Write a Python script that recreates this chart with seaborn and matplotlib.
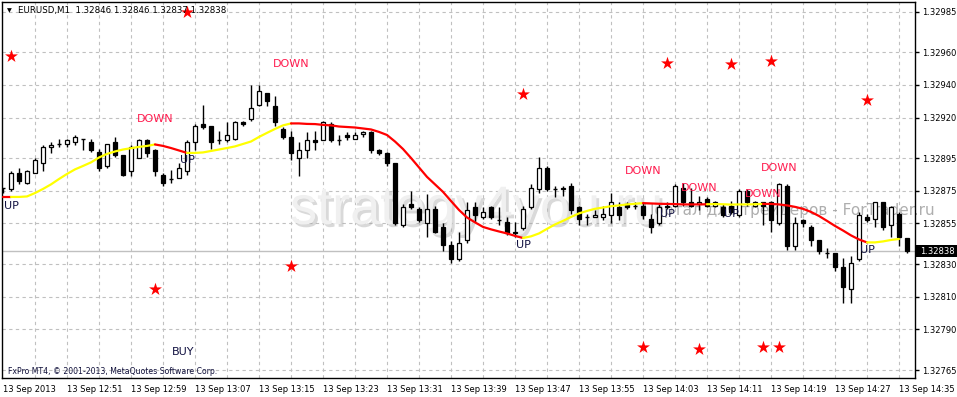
import numpy as np
import pandas as pd
import matplotlib
matplotlib.use("Agg")
import matplotlib.pyplot as plt
import matplotlib.patheffects as pe
from matplotlib.patches import Rectangle
import seaborn as sns

# ---------------- data ----------------
opens = [1.32877, 1.32876, 1.32886, 1.32880, 1.32886, 1.32892, 1.32902, 1.32904, 1.32904, 1.32905,
         1.32907, 1.32905, 1.32899, 1.32890, 1.32905, 1.32897, 1.32887, 1.32895, 1.32906, 1.32900,
         1.32885, 1.32882, 1.32883, 1.32887, 1.32905, 1.32916, 1.32915, 1.32906, 1.32906, 1.32907,
         1.32917, 1.32919, 1.32928, 1.32935, 1.32927, 1.32913, 1.32908, 1.32895, 1.32900, 1.32906,
         1.32906, 1.32916, 1.32906, 1.32909, 1.32907, 1.32910, 1.32911, 1.32900, 1.32898, 1.32892,
         1.32854, 1.32867, 1.32864, 1.32855, 1.32864, 1.32853, 1.32842, 1.32833, 1.32845, 1.32865,
         1.32859, 1.32865, 1.32857, 1.32856, 1.32850, 1.32852, 1.32865, 1.32876, 1.32889, 1.32876,
         1.32876, 1.32878, 1.32865, 1.32859, 1.32859, 1.32859, 1.32860, 1.32865, 1.32867, 1.32866,
         1.32866, 1.32858, 1.32855, 1.32865, 1.32866, 1.32877, 1.32868, 1.32867, 1.32870, 1.32866,
         1.32865, 1.32866, 1.32860, 1.32875, 1.32866, 1.32868, 1.32868, 1.32855, 1.32878, 1.32841,
         1.32857, 1.32853, 1.32845, 1.32837, 1.32837, 1.32828, 1.32815, 1.32833, 1.32859, 1.32858,
         1.32868, 1.32854, 1.32861, 1.32846]
highs = [1.32877, 1.32887, 1.32889, 1.32888, 1.32895, 1.32903, 1.32905, 1.32907, 1.32907, 1.32909,
         1.32907, 1.32907, 1.32901, 1.32904, 1.32908, 1.32897, 1.32903, 1.32907, 1.32907, 1.32901,
         1.32886, 1.32888, 1.32892, 1.32906, 1.32916, 1.32928, 1.32915, 1.32912, 1.32917, 1.32918,
         1.32918, 1.32940, 1.32940, 1.32935, 1.32933, 1.32914, 1.32912, 1.32905, 1.32911, 1.32912,
         1.32918, 1.32917, 1.32909, 1.32911, 1.32911, 1.32912, 1.32912, 1.32901, 1.32899, 1.32892,
         1.32867, 1.32875, 1.32865, 1.32873, 1.32866, 1.32855, 1.32844, 1.32850, 1.32868, 1.32868,
         1.32865, 1.32866, 1.32865, 1.32859, 1.32856, 1.32866, 1.32879, 1.32896, 1.32890, 1.32878,
         1.32878, 1.32880, 1.32866, 1.32861, 1.32863, 1.32866, 1.32874, 1.32868, 1.32868, 1.32868,
         1.32868, 1.32861, 1.32867, 1.32868, 1.32879, 1.32880, 1.32877, 1.32872, 1.32871, 1.32869,
         1.32867, 1.32869, 1.32876, 1.32876, 1.32869, 1.32868, 1.32869, 1.32880, 1.32879, 1.32859,
         1.32858, 1.32854, 1.32845, 1.32840, 1.32837, 1.32834, 1.32835, 1.32862, 1.32861, 1.32868,
         1.32868, 1.32866, 1.32862, 1.32846]
lows = [1.32874, 1.32875, 1.32879, 1.32879, 1.32886, 1.32887, 1.32898, 1.32902, 1.32902, 1.32903,
        1.32900, 1.32899, 1.32887, 1.32889, 1.32896, 1.32884, 1.32884, 1.32895, 1.32896, 1.32884,
        1.32878, 1.32880, 1.32883, 1.32885, 1.32900, 1.32913, 1.32901, 1.32904, 1.32905, 1.32906,
        1.32915, 1.32918, 1.32927, 1.32927, 1.32915, 1.32907, 1.32894, 1.32884, 1.32895, 1.32900,
        1.32906, 1.32905, 1.32903, 1.32906, 1.32907, 1.32908, 1.32898, 1.32897, 1.32890, 1.32854,
        1.32853, 1.32864, 1.32856, 1.32847, 1.32849, 1.32838, 1.32831, 1.32832, 1.32843, 1.32856,
        1.32858, 1.32858, 1.32854, 1.32848, 1.32847, 1.32851, 1.32864, 1.32874, 1.32875, 1.32871,
        1.32872, 1.32861, 1.32854, 1.32854, 1.32859, 1.32857, 1.32855, 1.32857, 1.32864, 1.32864,
        1.32858, 1.32849, 1.32854, 1.32864, 1.32865, 1.32866, 1.32865, 1.32863, 1.32865, 1.32865,
        1.32859, 1.32861, 1.32859, 1.32866, 1.32865, 1.32854, 1.32850, 1.32854, 1.32839, 1.32839,
        1.32853, 1.32841, 1.32836, 1.32834, 1.32826, 1.32806, 1.32806, 1.32832, 1.32856, 1.32853,
        1.32851, 1.32847, 1.32841, 1.32837]
closes = [1.32877, 1.32886, 1.32881, 1.32887, 1.32894, 1.32902, 1.32903, 1.32904, 1.32906, 1.32908,
          1.32907, 1.32900, 1.32889, 1.32904, 1.32897, 1.32885, 1.32902, 1.32906, 1.32898, 1.32887,
          1.32880, 1.32882, 1.32889, 1.32905, 1.32915, 1.32914, 1.32905, 1.32906, 1.32909, 1.32917,
          1.32916, 1.32926, 1.32936, 1.32930, 1.32917, 1.32908, 1.32898, 1.32900, 1.32906, 1.32905,
          1.32917, 1.32906, 1.32906, 1.32908, 1.32909, 1.32911, 1.32900, 1.32898, 1.32892, 1.32855,
          1.32865, 1.32865, 1.32857, 1.32864, 1.32850, 1.32842, 1.32833, 1.32843, 1.32863, 1.32860,
          1.32862, 1.32859, 1.32857, 1.32849, 1.32849, 1.32864, 1.32877, 1.32889, 1.32876, 1.32876,
          1.32877, 1.32863, 1.32858, 1.32859, 1.32860, 1.32861, 1.32868, 1.32860, 1.32865, 1.32866,
          1.32860, 1.32853, 1.32865, 1.32866, 1.32878, 1.32868, 1.32866, 1.32868, 1.32866, 1.32868,
          1.32860, 1.32862, 1.32875, 1.32868, 1.32868, 1.32866, 1.32857, 1.32879, 1.32841, 1.32855,
          1.32855, 1.32845, 1.32838, 1.32837, 1.32828, 1.32816, 1.32831, 1.32860, 1.32857, 1.32868,
          1.32853, 1.32865, 1.32847, 1.32838]

ma_values = [1.328713, 1.328713, 1.328713, 1.328716, 1.328737, 1.328762, 1.328790, 1.328823, 1.328854, 1.328882,
             1.328903, 1.328925, 1.328955, 1.328977, 1.328992, 1.329004, 1.329012, 1.329020, 1.329026, 1.329035,
             1.329026, 1.329013, 1.328998, 1.328983, 1.328983, 1.328986, 1.328995, 1.329004, 1.329013, 1.329023,
             1.329038, 1.329053, 1.329081, 1.329106, 1.329130, 1.329152, 1.329164, 1.329164, 1.329161, 1.329160,
             1.329155, 1.329152, 1.329145, 1.329142, 1.329139, 1.329133, 1.329127, 1.329112, 1.329093, 1.329053,
             1.329007, 1.328952, 1.328894, 1.328836, 1.328790, 1.328744, 1.328688, 1.328633, 1.328587, 1.328557,
             1.328529, 1.328514, 1.328501, 1.328489, 1.328474, 1.328461, 1.328471, 1.328489, 1.328517, 1.328544,
             1.328566, 1.328590, 1.328612, 1.328627, 1.328640, 1.328648, 1.328656, 1.328661, 1.328667, 1.328671,
             1.328675, 1.328673, 1.328671, 1.328670, 1.328669, 1.328667, 1.328667, 1.328667, 1.328668, 1.328669,
             1.328668, 1.328666, 1.328667, 1.328667, 1.328668, 1.328670, 1.328670, 1.328667, 1.328661, 1.328652,
             1.328640, 1.328621, 1.328596, 1.328566, 1.328535, 1.328507, 1.328477, 1.328452, 1.328434, 1.328434,
             1.328440, 1.328449, 1.328455]
trend_breaks = [0, 1, 19, 23, 36, 65, 80, 88, 95, 108, 112]
trend_dirs = ["down", "up", "down", "up", "down", "up", "down", "up", "down", "up"]

signal_text = ["UP", "DOWN", "UP", "DOWN", "UP", "DOWN", "UP", "DOWN", "UP", "DOWN", "DOWN", "UP", "BUY"]
signal_bar = [1, 19, 23, 36, 65, 80, 83, 87, 91, 95, 97, 108, 22.5]
signal_price = [1.32866, 1.32919, 1.32894, 1.32953, 1.32842, 1.32887, 1.32861, 1.32877,
                1.32861, 1.32873, 1.32889, 1.32839, 1.32776]

star_bar = [1, 23, 19, 36, 65, 83, 91, 96, 108, 80, 87, 95, 97]
star_price = [1.32958, 1.32985, 1.32815, 1.32829, 1.329345, 1.329535, 1.32953, 1.32955,
              1.32931, 1.32779, 1.32778, 1.32779, 1.32779]

x_tick_bars = [0, 8, 16, 24, 32, 40, 48, 56, 64, 72, 80, 88, 96, 104, 112]
x_tick_labels = ["13 Sep 2013", "13 Sep 12:51", "13 Sep 12:59", "13 Sep 13:07", "13 Sep 13:15",
                 "13 Sep 13:23", "13 Sep 13:31", "13 Sep 13:39", "13 Sep 13:47", "13 Sep 13:55",
                 "13 Sep 14:03", "13 Sep 14:11", "13 Sep 14:19", "13 Sep 14:27", "13 Sep 14:35"]
y_ticks = [1.32765, 1.32790, 1.32810, 1.32830, 1.32855, 1.32875, 1.32895, 1.32920, 1.32940, 1.32960, 1.32985]
last_price = 1.32838
title = "EURUSD,M1  1.32846 1.32846 1.32837 1.32838"

# ---------------- figure ----------------
sns.set_style("white")
plt.rcParams['font.family'] = ['DejaVu Sans']

W, H = 957, 397
fig = plt.figure(figsize=(W / 100, H / 100), dpi=100)
ax = fig.add_axes([2 / W, 19 / H, 913 / W, 376 / H])
ax.set_xlim(-0.125, 114)
ax.set_ylim(1.327602, 1.329909)

df = pd.DataFrame(dict(bar=np.arange(len(opens)), open=opens, high=highs, low=lows, close=closes))

# grid
grid_kw = dict(color='#c0c0c0', lw=0.8, ls=(0, (3, 3)), zorder=0)
for v in range(4, 114, 4):
    ax.axvline(v, **grid_kw)
for v in y_ticks:
    ax.axhline(v, **grid_kw)

# watermarks (behind candles)
ax.text(290 / W, 1 - 224 / H, "strategy4you.ru", transform=fig.transFigure, fontsize=39,
        family='Liberation Sans', color='#f0f0f0', ha='left', va='baseline', zorder=0.5,
        path_effects=[pe.withSimplePatchShadow(offset=(2, -2), shadow_rgbFace='#a0a0a0', alpha=0.4)],
        clip_on=False)
ax.text(643 / W, 1 - 215 / H, "Портал для трейдеров - ForTrader.ru", transform=fig.transFigure,
        fontsize=11, color='#a0a0a0', alpha=0.85, ha='left', va='baseline', zorder=0.6, clip_on=False)

# current price line
ax.axhline(last_price, color='#c0c0c0', lw=1, zorder=1)

# candles
body_w = 0.6
up = df.close > df.open
dn = df.close < df.open
flat = df.close == df.open
ax.vlines(df.bar, df.low, df.high, color='black', lw=1, zorder=2)
ax.bar(df.bar[up], (df.close - df.open)[up], bottom=df.open[up], width=body_w,
       color='white', edgecolor='black', lw=0.9, zorder=3)
ax.bar(df.bar[dn], (df.open - df.close)[dn], bottom=df.close[dn], width=body_w,
       color='black', edgecolor='black', lw=0.9, zorder=3)
ax.hlines(df.open[flat], df.bar[flat] - body_w / 2, df.bar[flat] + body_w / 2,
          color='black', lw=1, zorder=3)

# moving average, coloured by trend
ma_df = pd.DataFrame(dict(bar=np.arange(len(ma_values)), ma=ma_values))
trend_color = {"up": "#ffff00", "down": "#ff0000"}
for k, d in enumerate(trend_dirs):
    seg = ma_df.iloc[trend_breaks[k]:trend_breaks[k + 1] + 1]
    sns.lineplot(data=seg, x="bar", y="ma", color=trend_color[d], lw=1.6, ax=ax,
                 legend=False, zorder=4)

# stars
sns.scatterplot(x=star_bar, y=star_price, marker='*', s=95, color='#ff0000',
                linewidth=0, ax=ax, zorder=5, legend=False)

# signal labels
for t, b, p in zip(signal_text, signal_bar, signal_price):
    col = '#ff1a4d' if t == "DOWN" else '#101040'
    ax.text(b, p, t, ha='center', va='center', fontsize=8, color=col, zorder=6)

# axes styling
for s in ax.spines.values():
    s.set_color('black')
    s.set_linewidth(1)
ax.set_xlabel("")
ax.set_ylabel("")
ax.set_xticks(x_tick_bars)
ax.set_xticklabels(x_tick_labels)
for lab in ax.get_xticklabels():
    lab.set_horizontalalignment('left')
ax.tick_params(axis='x', length=3, width=1, direction='out', labelsize=6, pad=2, colors='black')
ax.yaxis.tick_right()
ax.set_yticks(y_ticks)
ax.set_yticklabels([f"{v:.5f}" for v in y_ticks])
ax.tick_params(axis='y', length=3, width=1, direction='out', labelsize=6, pad=2, colors='black')

# last price box on the price scale
fig.patches.append(Rectangle((916 / W, 1 - 257 / H), 41 / W, 12 / H, transform=fig.transFigure,
                             facecolor='black', edgecolor='none', zorder=10))
fig.text(920 / W, 1 - 251 / H, f"{last_price:.5f}", color='white', fontsize=6,
         ha='left', va='center', zorder=11)

# title and copyright
fig.text(7 / W, 1 - 11 / H, "▼", fontsize=4.5, color='black', ha='left', va='center')
fig.text(18 / W, 1 - 11 / H, title, fontsize=6.2, color='black', ha='left', va='center', zorder=1)
ax.text(8 / W, 1 - 372 / H, "FxPro MT4, © 2001-2013, MetaQuotes Software Corp.",
        transform=fig.transFigure, fontsize=5.6, color='#10103a', ha='left', va='center', zorder=6)

fig.savefig("out.png", dpi=100)
